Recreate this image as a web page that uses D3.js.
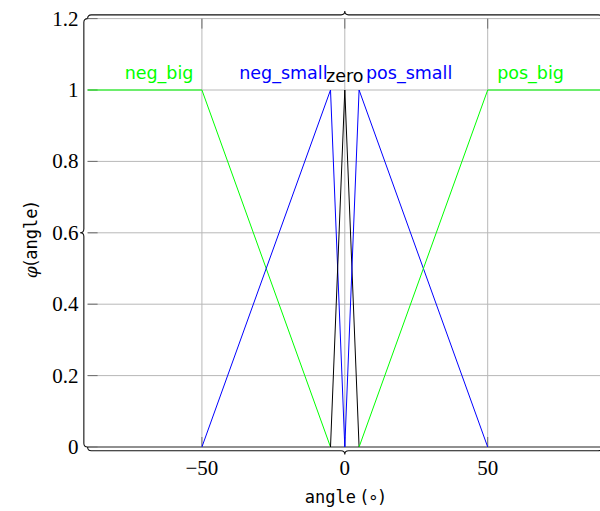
<!DOCTYPE html>
<html>
<head>
<meta charset="utf-8">
<script src="https://cdn.jsdelivr.net/npm/d3@7"></script>
<style>
  body { margin: 0; background: #fff; }
  svg { display: block; }
</style>
</head>
<body>
<svg id="chart" width="600" height="511"></svg>
<script>
// Zugehörigkeitsfunktionen (Fuzzy-Sets) für den Winkel
const xTicks = [-50, 0, 50];
const yTicks = [0, 0.2, 0.4, 0.6, 0.8, 1, 1.2];

const negBig   = [[-90, 1], [-50, 1], [-5, 0]];
const negSmall = [[-50, 0], [-5, 1], [0, 0]];
const zero     = [[-5, 0], [0, 1], [5, 0]];
const posSmall = [[0, 0], [5, 1], [50, 0]];
const posBig   = [[5, 0], [50, 1], [90, 1]];

const seriesNames  = ["neg_big", "neg_small", "zero", "pos_small", "pos_big"];
const seriesData   = [negBig, negSmall, zero, posSmall, posBig];
const seriesColors = ["#00ff00", "#0000ff", "#000000", "#0000ff", "#00ff00"];
const labelX       = [-65, -21.5, 0, 22.5, 65];

const width = 600, height = 511;
const margin = { top: 18.6, right: -2, bottom: 64, left: 87.6 };
const innerWidth  = width  - margin.left - margin.right;
const innerHeight = height - margin.top  - margin.bottom;

const svg = d3.select("#chart");
const g = svg.append("g")
  .attr("transform", `translate(${margin.left},${margin.top})`);

const x = d3.scaleLinear().domain([-90, 90]).range([0, innerWidth]);
const y = d3.scaleLinear().domain([0, 1.2]).range([innerHeight, 0]);

// Gitter
g.append("g")
  .selectAll("line.h")
  .data(yTicks)
  .join("line")
  .attr("x1", 0).attr("x2", innerWidth)
  .attr("y1", d => y(d)).attr("y2", d => y(d))
  .attr("stroke", "#b8b8b8").attr("stroke-width", 1);

g.append("g")
  .selectAll("line.v")
  .data(xTicks)
  .join("line")
  .attr("x1", d => x(d)).attr("x2", d => x(d))
  .attr("y1", 0).attr("y2", innerHeight)
  .attr("stroke", "#b8b8b8").attr("stroke-width", 1);

// Tick-Striche innen
const tl = 10;
g.append("g").selectAll("line")
  .data(yTicks)
  .join("line")
  .attr("x1", 0).attr("x2", tl)
  .attr("y1", d => y(d)).attr("y2", d => y(d))
  .attr("stroke", "#6e6e6e");
g.append("g").selectAll("line")
  .data(xTicks)
  .join("line")
  .attr("x1", d => x(d)).attr("x2", d => x(d))
  .attr("y1", 0).attr("y2", tl)
  .attr("stroke", "#6e6e6e");
g.append("g").selectAll("line")
  .data(xTicks)
  .join("line")
  .attr("x1", d => x(d)).attr("x2", d => x(d))
  .attr("y1", innerHeight).attr("y2", innerHeight - tl)
  .attr("stroke", "#6e6e6e");
g.append("line")
  .attr("x1", 0).attr("x2", innerWidth)
  .attr("y1", innerHeight).attr("y2", innerHeight)
  .attr("stroke", "#777").attr("stroke-width", 1.5);

// Kurven
const line = d3.line().x(d => x(d[0])).y(d => y(d[1]));
g.append("g")
  .selectAll("path")
  .data(seriesData)
  .join("path")
  .attr("d", line)
  .attr("fill", "none")
  .attr("stroke", (d, i) => seriesColors[i])
  .attr("stroke-width", 1);

// Beschriftungen der Mengen
g.append("g")
  .selectAll("text")
  .data(seriesNames)
  .join("text")
  .attr("x", (d, i) => x(labelX[i]))
  .attr("y", (d, i) => y(1) + (d === "zero" ? -8 : -11))
  .attr("text-anchor", "middle")
  .attr("font-family", "DejaVu Sans, sans-serif")
  .attr("font-size", "17.5px")
  .attr("fill", (d, i) => seriesColors[i])
  .text(d => d);

// Achsenlinien als geschweifte Klammern
function brace(x1, y1, x2, y2, a) {
  const dx = x2 - x1, dy = y2 - y1;
  const L = Math.hypot(dx, dy);
  const ux = dx / L, uy = dy / L;
  const nx = uy, ny = -ux; // links der Laufrichtung
  const p = (s, t) => [x1 + ux * s + nx * t, y1 + uy * s + ny * t];
  const h = a / 2;
  const path = d3.path();
  path.moveTo(...p(0, 0));
  path.quadraticCurveTo(...p(0, h), ...p(h, h));
  path.lineTo(...p(L / 2 - h, h));
  path.quadraticCurveTo(...p(L / 2, h), ...p(L / 2, a));
  path.quadraticCurveTo(...p(L / 2, h), ...p(L / 2 + h, h));
  path.lineTo(...p(L - h, h));
  path.quadraticCurveTo(...p(L, h), ...p(L, 0));
  return path.toString();
}

const amp = 7.5;
const braces = [
  [0, innerHeight, 0, 0],                     // links, Spitze nach links
  [0, 0, innerWidth, 0],                      // oben, Spitze nach oben
  [innerWidth, innerHeight, 0, innerHeight],  // unten, Spitze nach unten
  [innerWidth, 0, innerWidth, innerHeight]    // rechts
];
g.append("g")
  .selectAll("path")
  .data(braces)
  .join("path")
  .attr("d", d => brace(d[0], d[1], d[2], d[3], amp))
  .attr("fill", "none")
  .attr("stroke", "#111")
  .attr("stroke-width", 1.1);

// Tick-Beschriftungen
const fmt = d => (d < 0 ? "\u2212" + Math.abs(d) : String(d));
g.append("g")
  .selectAll("text")
  .data(yTicks)
  .join("text")
  .attr("x", -9)
  .attr("y", d => y(d) + 7)
  .attr("text-anchor", "end")
  .attr("font-family", "Liberation Serif, DejaVu Serif, serif")
  .attr("font-size", "21px")
  .text(d => d);

g.append("g")
  .selectAll("text")
  .data(xTicks)
  .join("text")
  .attr("x", d => x(d))
  .attr("y", innerHeight + 28)
  .attr("text-anchor", "middle")
  .attr("font-family", "Liberation Serif, DejaVu Serif, serif")
  .attr("font-size", "21px")
  .text(fmt);

// Achsentitel
const xl = svg.append("text")
  .attr("x", 345)
  .attr("y", 503)
  .attr("text-anchor", "middle")
  .attr("font-size", "17px");
xl.append("tspan").attr("font-family", "DejaVu Sans Mono, monospace").text("angle");
xl.append("tspan").attr("font-family", "DejaVu Sans, sans-serif").text(" (\u2218)");

const yl = svg.append("text")
  .attr("transform", "translate(37,240) rotate(-90)")
  .attr("text-anchor", "middle")
  .attr("font-size", "17px");
yl.append("tspan").attr("font-family", "DejaVu Serif, serif").attr("font-style", "italic").text("\u03c6");
yl.append("tspan").attr("font-family", "DejaVu Sans, sans-serif").text("(");
yl.append("tspan").attr("font-family", "DejaVu Sans Mono, monospace").text("angle");
yl.append("tspan").attr("font-family", "DejaVu Sans, sans-serif").text(")");
</script>
</body>
</html>
